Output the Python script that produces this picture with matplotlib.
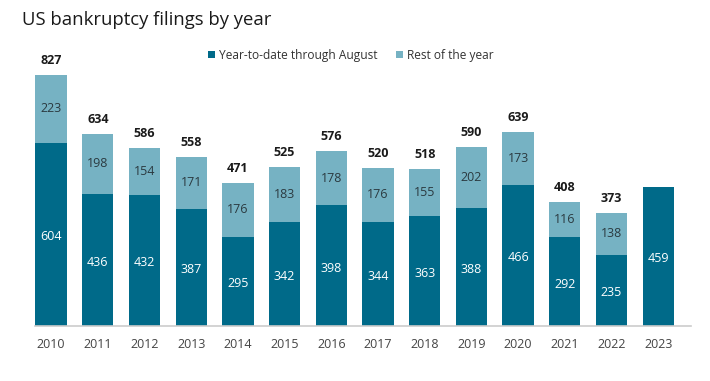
import numpy as np
from matplotlib import pyplot as plt

plt.rcParams['font.family'] = ['Open Sans', 'DejaVu Sans']

years = ['2010', '2011', '2012', '2013', '2014', '2015', '2016',
         '2017', '2018', '2019', '2020', '2021', '2022', '2023']
ytd = [604, 436, 432, 387, 295, 342, 398, 344, 363, 388, 466, 292, 235, 459]
rest = [223, 198, 154, 171, 176, 183, 178, 176, 155, 202, 173, 116, 138, 0]

dark = '#006a89'
light = '#76b2c3'

fig = plt.figure(figsize=(7.1, 3.81), dpi=100)
ax = fig.add_axes([0.049, 0.1444, 0.924, 0.7165])

x = np.arange(len(years))
width = 0.67

ax.bar(x, ytd, width=width, color=dark, label='Year-to-date through August')
ax.bar(x, rest, width=width, bottom=ytd, color=light, label='Rest of the year')

for i in range(len(years)):
    ax.text(x[i], ytd[i] / 2 - 8, str(ytd[i]), ha='center', va='center',
            color='white', fontsize=9)
    if rest[i] > 0:
        ax.text(x[i], ytd[i] + rest[i] / 2, str(rest[i]), ha='center',
                va='center', color='#2b3a40', fontsize=9)
        total = ytd[i] + rest[i]
        ax.text(x[i], total + 26, str(total), ha='center', va='bottom',
                color='#1a1a1a', fontsize=9, fontweight='bold')

ax.set_xlim(-0.35, 13.7)
ax.set_ylim(0, 900)
ax.set_xticks(x, years)
ax.tick_params(axis='x', length=0, pad=9, labelsize=9, labelcolor='#444444')
ax.set_yticks([])
for s in ['top', 'right', 'left']:
    ax.spines[s].set_visible(False)
ax.spines['bottom'].set_color('#cccccc')
ax.spines['bottom'].set_linewidth(1.2)

fig.text(0.031, 0.947, 'US bankruptcy filings by year', fontsize=13.3,
         color='#1a1a1a', va='center', ha='left')

fig.legend(loc='center', bbox_to_anchor=(0.494, 0.855), ncol=2, frameon=False,
           fontsize=8.6, handlelength=0.6, handleheight=0.6, handletextpad=0.3,
           columnspacing=1.6, labelcolor='#333333')

plt.savefig('out.png', dpi=100)
